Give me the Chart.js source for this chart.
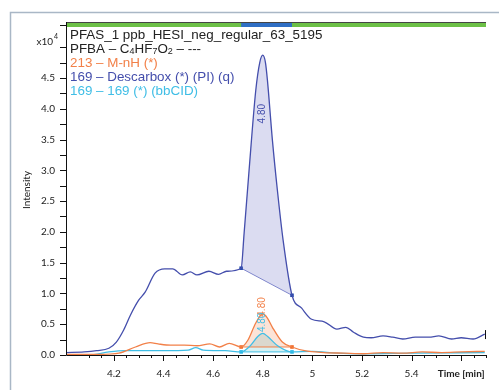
<!DOCTYPE html>
<html>
<head>
<meta charset="utf-8">
<script src="https://cdn.jsdelivr.net/npm/chart.js@4.4.1/dist/chart.umd.min.js"></script>
<style>
  body { margin: 0; background: #fff; }
  canvas { display: block; }
</style>
</head>
<body>
<canvas id="chart" width="499" height="390"></canvas>
<script>
// chromatogram traces, time in min, intensity in x10^4
const blueTime = [4.007, 4.08, 4.13, 4.18, 4.21, 4.24, 4.267, 4.30, 4.326, 4.366, 4.405, 4.437, 4.476, 4.508, 4.535, 4.583, 4.622, 4.654, 4.713,
  4.725, 4.744, 4.772, 4.788, 4.80, 4.811, 4.819, 4.839, 4.859, 4.882, 4.918,
  4.957, 4.997, 5.048, 5.099, 5.135, 5.166, 5.206, 5.237, 5.285, 5.324, 5.364, 5.415, 5.47, 5.51, 5.561, 5.60, 5.648, 5.695];
const blueInt = [0.04, 0.05, 0.07, 0.11, 0.21, 0.41, 0.65, 0.89, 1.02, 1.33, 1.40, 1.40, 1.30, 1.35, 1.30, 1.36, 1.31, 1.36, 1.41,
  1.98, 2.95, 4.30, 4.75, 4.87, 4.75, 4.46, 3.49, 2.68, 1.87, 0.97,
  0.76, 0.58, 0.54, 0.42, 0.45, 0.37, 0.29, 0.28, 0.31, 0.29, 0.26, 0.29, 0.29, 0.31, 0.26, 0.28, 0.26, 0.34];

const orangeTime = [4.007, 4.14, 4.22, 4.287, 4.346, 4.378, 4.429, 4.484, 4.535, 4.587, 4.626, 4.665, 4.713,
  4.74, 4.772, 4.80, 4.819, 4.839, 4.879, 4.918,
  4.969, 5.048, 5.127, 5.206, 5.285, 5.364, 5.443, 5.521, 5.60, 5.695];
const orangeInt = [0.01, 0.01, 0.03, 0.13, 0.20, 0.18, 0.16, 0.16, 0.15, 0.18, 0.13, 0.19, 0.13,
  0.24, 0.52, 0.67, 0.60, 0.45, 0.21, 0.13,
  0.07, 0.04, 0.03, 0.02, 0.04, 0.03, 0.05, 0.04, 0.05, 0.06];

const cyanTime = [4.007, 4.10, 4.18, 4.25, 4.40, 4.50, 4.53, 4.56, 4.65, 4.713,
  4.75, 4.78, 4.80, 4.82, 4.86, 4.918,
  5.00, 5.10, 5.20, 5.40, 5.695];
const cyanInt = [0.0, 0.0, 0.05, 0.07, 0.07, 0.08, 0.12, 0.08, 0.07, 0.05,
  0.15, 0.30, 0.35, 0.30, 0.15, 0.05,
  0.06, 0.03, 0.02, 0.03, 0.04];

const peakStart = 4.713;
const peakEnd = 4.918;
const peakLabel = "4.80";

const legendLines = [
  "PFAS_1 ppb_HESI_neg_regular_63_5195",
  "PFBA – C4HF7O2 – ---",
  "213 – M-nH (*)",
  "169 – Descarbox (*) (PI) (q)",
  "169 – 169 (*) (bbCID)"
];

const BLUE = "rgb(68,78,172)";
const ORANGE = "rgb(242,128,72)";
const CYAN = "rgb(64,190,230)";

function toPoints(t, v) {
  return t.map((x, i) => ({ x: x, y: v[i] }));
}
function peakPart(t, v) {
  return toPoints(t, v).filter(p => p.x >= peakStart - 1e-6 && p.x <= peakEnd + 1e-6);
}
function baseline(t, v) {
  const pts = peakPart(t, v);
  return [pts[0], pts[pts.length - 1]];
}

const lineOpts = { borderWidth: 1.3, pointRadius: 0, cubicInterpolationMode: "monotone", fill: false };

const datasets = [
  Object.assign({ data: toPoints(blueTime, blueInt), borderColor: BLUE }, lineOpts),
  Object.assign({ data: toPoints(orangeTime, orangeInt), borderColor: ORANGE }, lineOpts),
  Object.assign({ data: toPoints(cyanTime, cyanInt), borderColor: CYAN }, lineOpts),
  // integrated areas
  { data: peakPart(blueTime, blueInt), borderWidth: 0, pointRadius: 0, cubicInterpolationMode: "monotone",
    fill: { target: 4 }, backgroundColor: "rgba(110,115,200,0.25)" },
  { data: baseline(blueTime, blueInt), borderColor: "rgb(130,138,205)", borderWidth: 1, pointStyle: "rect",
    pointRadius: 2.5, pointBackgroundColor: "rgb(30,70,170)", pointBorderWidth: 0, fill: false },
  { data: peakPart(orangeTime, orangeInt), borderWidth: 0, pointRadius: 0, cubicInterpolationMode: "monotone",
    fill: { target: 6 }, backgroundColor: "rgba(242,128,72,0.22)" },
  { data: baseline(orangeTime, orangeInt), borderColor: ORANGE, borderWidth: 1, pointStyle: "rect",
    pointRadius: 2.5, pointBackgroundColor: "rgb(240,100,30)", pointBorderWidth: 0, fill: false },
  { data: peakPart(cyanTime, cyanInt), borderWidth: 0, pointRadius: 0, cubicInterpolationMode: "monotone",
    fill: { target: 8 }, backgroundColor: "rgba(64,190,200,0.22)" },
  { data: baseline(cyanTime, cyanInt), borderColor: CYAN, borderWidth: 1, pointStyle: "rect",
    pointRadius: 2.5, pointBackgroundColor: "rgb(30,180,230)", pointBorderWidth: 0, fill: false }
];

function near(a, b) { return Math.abs(a - b) < 1e-6; }

const decor = {
  id: "decor",
  afterDraw(chart) {
    const c = chart.ctx, a = chart.chartArea;
    const xs = chart.scales.x, ys = chart.scales.y;
    c.save();
    // outer panel frame
    c.strokeStyle = "#a9b7c6";
    c.lineWidth = 1.5;
    c.beginPath();
    c.moveTo(10.5, 390); c.lineTo(10.5, 12.5); c.lineTo(499, 12.5);
    c.stroke();

    // top bar
    c.fillStyle = "#444";
    c.fillRect(a.left, 22, a.right - a.left, 1);
    c.fillStyle = "#6cc046";
    c.fillRect(a.left, 23, a.right - a.left, 4);
    c.fillStyle = "#2f6fc4";
    const b0 = xs.getPixelForValue(peakStart), b1 = xs.getPixelForValue(peakEnd);
    c.fillRect(b0, 23, b1 - b0, 4);

    // axes
    c.strokeStyle = "#111";
    c.lineWidth = 1;
    c.beginPath();
    c.moveTo(a.left + 0.5, 22); c.lineTo(a.left + 0.5, a.bottom + 0.5);
    c.lineTo(a.right, a.bottom + 0.5);
    c.stroke();

    // tick marks
    c.beginPath();
    ys.ticks.forEach(t => {
      const y = Math.round(ys.getPixelForValue(t.value)) + 0.5;
      c.moveTo(a.left - 6, y); c.lineTo(a.left, y);
    });
    xs.ticks.forEach(t => {
      const v = Math.round(t.value * 100);
      if (v % 5 !== 0) return;
      const x = Math.round(xs.getPixelForValue(t.value)) + 0.5;
      const len = v % 20 === 0 ? 6 : 3;
      c.moveTo(x, a.bottom); c.lineTo(x, a.bottom + len);
    });
    c.stroke();

    // end marker on the blue trace
    const ex = xs.getPixelForValue(blueTime[blueTime.length - 1]);
    const ey = ys.getPixelForValue(blueInt[blueInt.length - 1]);
    c.beginPath();
    c.moveTo(Math.round(ex) + 0.5, ey - 4); c.lineTo(Math.round(ex) + 0.5, ey + 5);
    c.stroke();

    // y title
    c.fillStyle = "#222";
    c.font = "10px Lato";
    c.textAlign = "center";
    c.textBaseline = "middle";
    c.translate(27, 190);
    c.rotate(-Math.PI / 2);
    c.fillText("Intensity", 0, 0);
    c.setTransform(1, 0, 0, 1, 0, 0);

    // x10^4
    c.textAlign = "right";
    c.font = "10px Lato";
    c.fillText("x10", 53, 42);
    c.font = "7px Lato";
    c.fillText("4", 58, 37);

    // peak labels
    const px = xs.getPixelForValue(4.80);
    const labels = [[3.92, BLUE], [0.78, ORANGE], [0.53, CYAN]];
    c.font = "10px 'Liberation Sans'";
    c.textAlign = "center";
    labels.forEach(l => {
      c.save();
      c.translate(px, ys.getPixelForValue(l[0]));
      c.rotate(-Math.PI / 2);
      c.fillStyle = l[1];
      c.fillText(peakLabel, 0, 0);
      c.restore();
    });

    // legend text
    const colors = ["#222", "#222", ORANGE, BLUE, CYAN];
    const lx = 70;
    c.textAlign = "left";
    c.textBaseline = "middle";
    legendLines.forEach((txt, i) => {
      const y = 35 + i * 14;
      c.fillStyle = colors[i];
      if (i === 1) {
        // chemical formula with subscripts
        let x = lx;
        const parts = [["PFBA – C", 0], ["4", 1], ["HF", 0], ["7", 1], ["O", 0], ["2", 1], [" – ---", 0]];
        parts.forEach(p => {
          c.font = p[1] ? "9px 'Liberation Sans'" : "13.4px 'Liberation Sans'";
          c.fillText(p[0], x, y + (p[1] ? 3 : 0));
          x += c.measureText(p[0]).width;
        });
      } else {
        c.font = "13.4px 'Liberation Sans'";
        c.fillText(txt, lx, y);
      }
    });
    c.restore();
  }
};

new Chart(document.getElementById("chart"), {
  type: "line",
  data: { datasets: datasets },
  plugins: [decor],
  options: {
    responsive: false,
    animation: false,
    layout: { padding: { top: 25, right: 4, left: 0, bottom: 0 } },
    plugins: { legend: { display: false }, tooltip: { enabled: false } },
    scales: {
      x: {
        type: "linear",
        min: 4.007,
        max: 5.70,
        afterFit: s => { s.height = 35; },
        grid: { display: false, drawTicks: false },
        border: { display: false },
        ticks: {
          stepSize: 0.05,
          autoSkip: false,
          maxRotation: 0,
          padding: 13,
          color: "#222",
          font: ctx => ({ family: "Lato", size: 10,
            weight: (ctx.tick && near(ctx.tick.value, 5.6)) ? "bold" : "normal" }),
          callback: v => {
            const k = Math.round(v * 100);
            if (Math.abs(v * 100 - k) > 1e-4) return "";
            if (k === 560) return "Time [min]";
            if (k % 20 !== 0) return "";
            return String(k / 100);
          }
        }
      },
      y: {
        min: 0,
        max: 5.36,
        afterFit: s => { s.width = 66; },
        grid: { display: false, drawTicks: false },
        border: { display: false },
        ticks: {
          stepSize: 0.25,
          autoSkip: false,
          padding: 11,
          color: "#222",
          font: { family: "Lato", size: 10 },
          callback: v => {
            const k = Math.round(v * 100);
            if (k % 50 !== 0 || k >= 500) return "";
            return (k / 100).toFixed(1);
          }
        }
      }
    }
  }
});
</script>
</body>
</html>
